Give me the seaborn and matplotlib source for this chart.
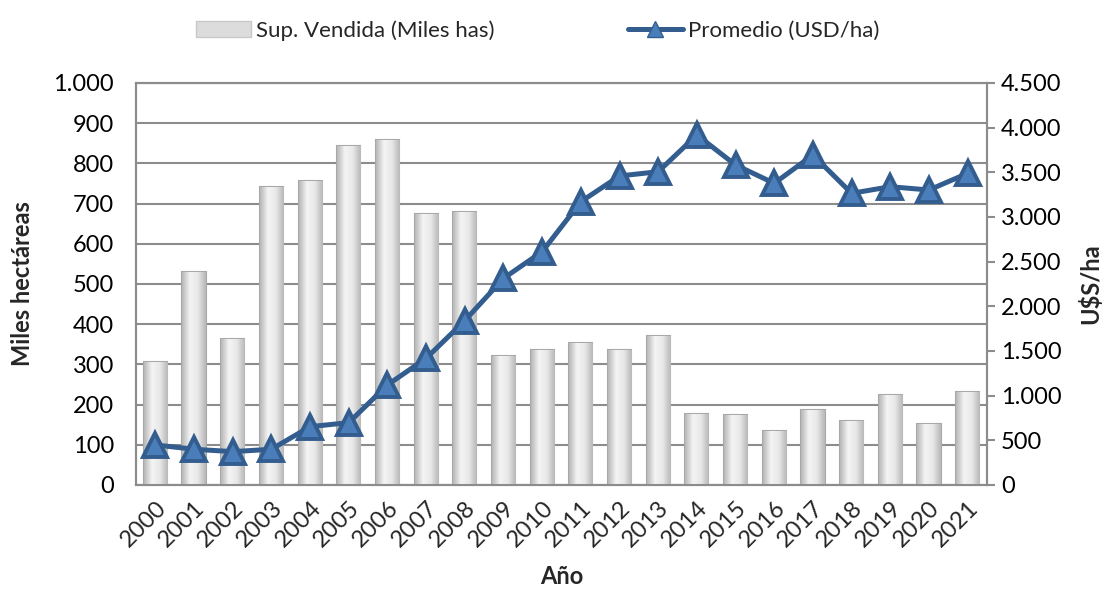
import numpy as np
import pandas as pd
import seaborn as sns
import matplotlib.pyplot as plt
from matplotlib.ticker import FuncFormatter, MultipleLocator
from matplotlib.colors import LinearSegmentedColormap
from matplotlib.lines import Line2D
from matplotlib.patches import Patch

anios = [str(a) for a in range(2000, 2022)]
sup_vendida = [305, 530, 362, 742, 756, 843, 858, 673, 680, 321, 336, 352,
               336, 371, 177, 174, 135, 187, 160, 224, 152, 231]
promedio_usd = [448, 400, 373, 400, 653, 698, 1120, 1418, 1840, 2313, 2612, 3171,
                3459, 3507, 3918, 3582, 3377, 3694, 3265, 3339, 3302, 3489]

df = pd.DataFrame({"Anio": anios, "Sup": sup_vendida, "Prom": promedio_usd})

sns.set_theme(style="white")
plt.rcParams['font.family'] = ['Lato', 'DejaVu Sans']

fig = plt.figure(figsize=(11.17, 6), dpi=100)
ax = fig.add_axes([0.1218, 0.1917, 0.7618, 0.67])
ax2 = ax.twinx()

gris = "#8c8c8c"
sns.barplot(data=df, x="Anio", y="Sup", ax=ax, color="#e4e4e4", width=0.6,
            edgecolor="#a8a8a8", linewidth=1.5, saturation=1, zorder=3)

# sombreado tipo Excel dentro de cada barra
cmap_bar = LinearSegmentedColormap.from_list("barra", ["#b8b8b8", "#f4f4f4", "#e8e8e8", "#b8b8b8"])
grad = np.linspace(0, 1, 64).reshape(1, -1)
for p in ax.patches:
    x0, y0 = p.get_x(), p.get_y()
    im = ax.imshow(grad, cmap=cmap_bar, aspect="auto", zorder=3.5,
                   extent=[x0, x0 + p.get_width(), y0, y0 + p.get_height()])
    im.set_clip_path(p)

sns.lineplot(x=np.arange(len(anios)), y=df["Prom"], ax=ax2, color="#335d8e",
             linewidth=3.6, marker="^", markersize=17, markerfacecolor="#4a7ebb",
             markeredgecolor="#335d8e", markeredgewidth=2.8, zorder=5)

miles = FuncFormatter(lambda v, p: f"{int(v):,}".replace(",", "."))

ax.set_ylim(0, 1000)
ax.yaxis.set_major_locator(MultipleLocator(100))
ax.yaxis.set_major_formatter(miles)
ax.set_xlim(-0.5, len(anios) - 0.5)
ax.grid(axis="y", color=gris, linewidth=1.5, zorder=0)
ax.set_axisbelow(True)

ax2.set_ylim(0, 4500)
ax2.yaxis.set_major_locator(MultipleLocator(500))
ax2.yaxis.set_major_formatter(miles)
ax2.grid(False)

for a in (ax, ax2):
    for s in a.spines.values():
        s.set_color(gris)
        s.set_linewidth(1.5)
    a.tick_params(axis="y", labelsize=17, colors="black", length=6, width=1.5,
                  color=gris, direction="out")
ax.tick_params(axis="y", left=False, pad=10)
ax2.tick_params(axis="y", right=True, pad=4)

ax.set_xticks(range(len(anios)))
ax.set_xticklabels(anios, rotation=45, ha="right", rotation_mode="anchor", fontsize=17)
ax.tick_params(axis="x", length=0, pad=9)

ax.set_xlabel("Año", fontsize=17, fontweight="bold", labelpad=10)
ax.set_ylabel("Miles hectáreas", fontsize=17, fontweight="bold", labelpad=14)
ax2.set_ylabel("U$S/ha", fontsize=17, fontweight="bold", labelpad=12)

handles = [Patch(facecolor="#dcdcdc", edgecolor="#c8c8c8"),
           Line2D([0], [0], color="#335d8e", linewidth=3.6, marker="^", markersize=12,
                  markerfacecolor="#4a7ebb", markeredgecolor="#335d8e")]
fig.legend(handles, ["Sup. Vendida (Miles has)", "Promedio (USD/ha)"],
           loc="upper center", bbox_to_anchor=(0.481, 1.0), ncol=2, frameon=False,
           fontsize=16, columnspacing=6.0, handlelength=2.5, handletextpad=0.2)

fig.savefig("out.png", dpi=100)
